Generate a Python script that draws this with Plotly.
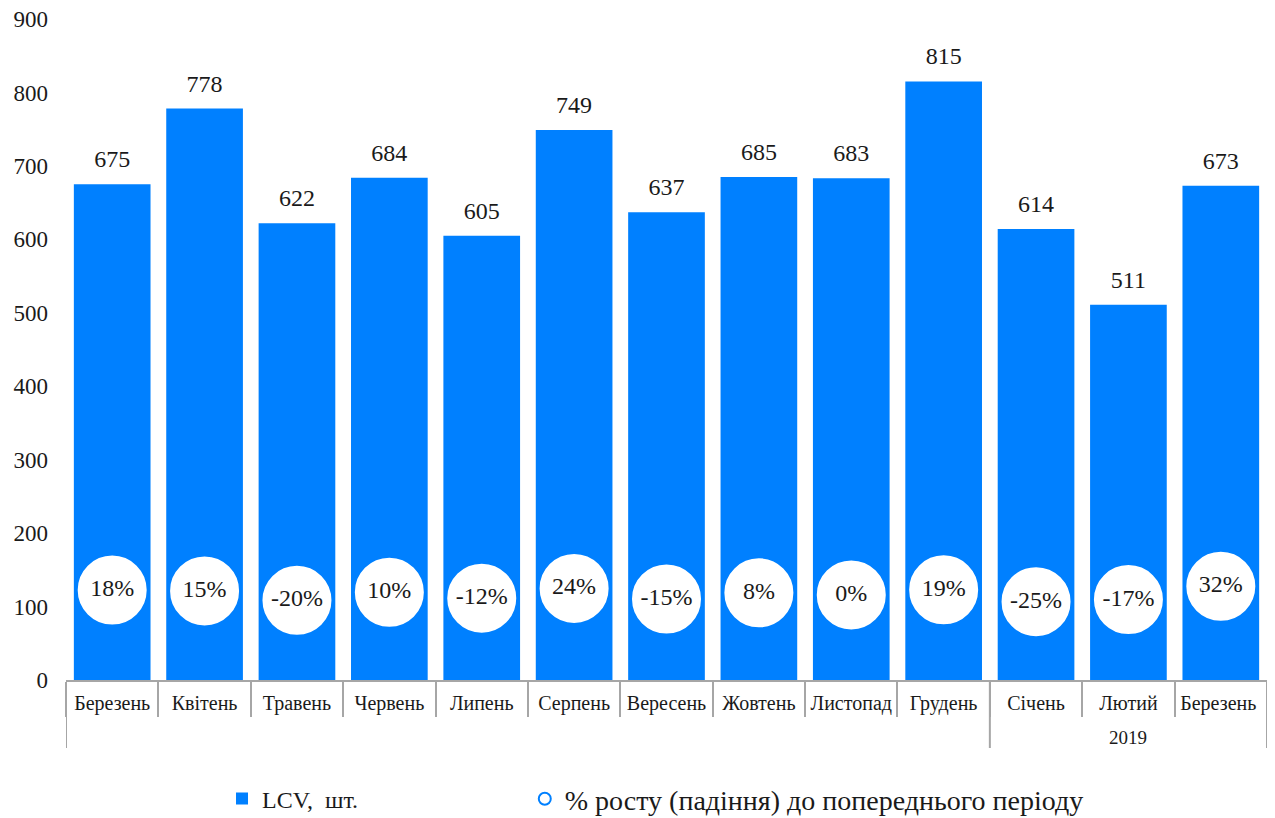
import plotly.graph_objects as go

groups = [""] * 10 + ["2019"] * 3
# trailing space keeps the two "Березень" categories distinct (SVG strips it when drawing)
months = ["Березень", "Квітень", "Травень", "Червень", "Липень", "Серпень", "Вересень",
          "Жовтень", "Листопад", "Грудень", "Січень", "Лютий", "Березень "]
lcv = [675, 778, 622, 684, 605, 749, 637, 685, 683, 815, 614, 511, 673]
pct = [18, 15, -20, 10, -12, 24, -15, 8, 0, 19, -25, -17, 32]
y_ticks = [0, 100, 200, 300, 400, 500, 600, 700, 800, 900]

FONT = "Liberation Serif"
BLUE = "#0080FF"
GRAY = "#A6A6A6"
TXT = "#1A1A1A"

PLOT_H = 661  # plot-area height in px

fig = go.Figure()
fig.add_trace(go.Bar(
    x=months, y=lcv, name="LCV,  шт.", marker=dict(color=BLUE, line=dict(width=0)),
    legend="legend",
))
fig.add_trace(go.Scatter(
    x=months, y=pct, yaxis="y2", mode="markers+text",
    name="% росту (падіння) до попереднього періоду",
    marker=dict(size=71, color="white", line=dict(color=BLUE, width=2)),
    text=[f"{v}%" for v in pct], textposition="middle center",
    textfont=dict(family=FONT, size=24, color=TXT),
    legend="legend2",
))
fig.add_trace(go.Scatter(
    x=months, y=lcv, mode="markers+text", showlegend=False,
    marker=dict(size=16, opacity=0), text=[str(v) for v in lcv],
    textposition="top center", textfont=dict(family=FONT, size=24, color=TXT),
    hoverinfo="skip",
))

# group dividers and group labels (second level of the category axis)
bounds = [-0.5]
spans = []
start = 0
for i in range(1, len(groups) + 1):
    if i == len(groups) or groups[i] != groups[start]:
        bounds.append(i - 0.5)
        spans.append((groups[start], (start + i - 1) / 2))
        start = i

shapes = [dict(type="line", xref="x", yref="paper", x0=b, x1=b, y0=0, y1=-68 / PLOT_H,
               line=dict(color=GRAY, width=2)) for b in bounds]
annotations = [dict(text=g, x=c, xref="x", yref="paper", y=-57 / PLOT_H, yanchor="middle",
                    showarrow=False, font=dict(family=FONT, size=19, color=TXT))
               for g, c in spans if g]

leg_common = dict(orientation="h", yanchor="middle", y=-0.18, xanchor="left",
                  itemsizing="constant", bgcolor="rgba(0,0,0,0)")

# the page body adds an 8px offset, so the figure is 8px smaller than the window
fig.update_layout(
    width=1267, height=810,
    margin=dict(l=58, r=8, t=11, b=138, autoexpand=False),
    paper_bgcolor="white", plot_bgcolor="white",
    bargap=0.17,
    font=dict(family=FONT, color=TXT),
    showlegend=True,
    legend=dict(x=0.1299, font=dict(family=FONT, size=24, color=TXT), **leg_common),
    legend2=dict(x=0.382, font=dict(family=FONT, size=28, color=TXT), **leg_common),
    shapes=shapes,
    annotations=annotations,
    xaxis=dict(
        type="category", range=[-0.5, 12.5], automargin=False,
        showline=True, linecolor=GRAY, linewidth=2,
        ticks="outside", tickson="boundaries", ticklen=35, tickcolor=GRAY, tickwidth=2,
        tickfont=dict(family=FONT, size=20, color=TXT), tickangle=0,
        ticklabelstandoff=4, showgrid=False,
    ),
    yaxis=dict(
        range=[0, 900], tickvals=y_ticks, showgrid=False, showline=False, zeroline=False,
        tickfont=dict(family=FONT, size=23, color=TXT), ticklabelstandoff=17,
        ticklabeloverflow="allow", automargin=False,
    ),
    yaxis2=dict(range=[-315, 2133], overlaying="y", visible=False),
)

fig.write_html("out.html")
